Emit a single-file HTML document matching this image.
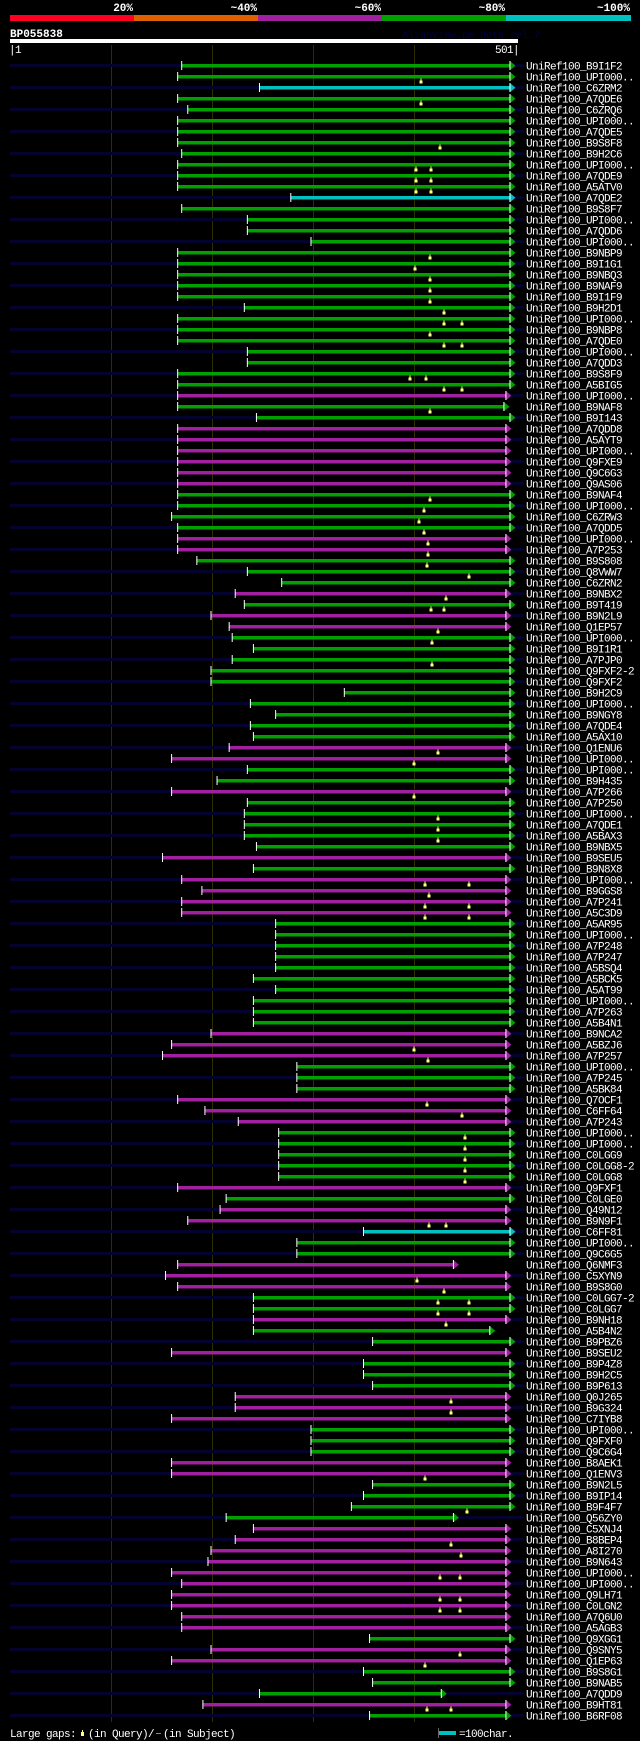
<!DOCTYPE html>
<html><head><meta charset="utf-8"><style>
html,body{margin:0;padding:0;background:#000;}
svg{display:block;}
text{font-family:"Liberation Mono",monospace;}
</style></head><body>
<svg id="chart" width="640" height="1741" viewBox="0 0 640 1741" xmlns="http://www.w3.org/2000/svg">
<rect x="0" y="0" width="640" height="1741" fill="#000"/>
<g font-size="11" font-weight="bold" fill="#fff" text-anchor="end">
<text x="133" y="11">20%</text>
<text x="257" y="11">~40%</text>
<text x="381" y="11">~60%</text>
<text x="505" y="11">~80%</text>
<text x="630" y="11">~100%</text>
</g>
<g>
<rect x="10" y="15" width="124" height="6" fill="#ff0022"/>
<rect x="134" y="15" width="124" height="6" fill="#e06000"/>
<rect x="258" y="15" width="124" height="6" fill="#a020a0"/>
<rect x="382" y="15" width="124" height="6" fill="#00a000"/>
<rect x="506" y="15" width="125" height="6" fill="#00c0c0"/>
</g>
<text x="10" y="37" font-size="11" font-weight="bold" fill="#fff">BP055838</text>
<text x="402" y="38" font-size="10" fill="#000048">AlignView.pm Beta rel.7</text>
<rect x="10" y="39" width="508" height="4" fill="#fff"/>
<text x="9" y="53" font-size="11" fill="#fff" letter-spacing="-0.6">|1</text>
<text x="519" y="53" font-size="11" fill="#fff" text-anchor="end" letter-spacing="-0.6">501|</text>
<g id="grid"></g>
<g id="rows"></g>
<g font-size="11" fill="#fff" letter-spacing="-0.6">
<text x="10" y="1737">Large gaps:</text>
<rect x="81" y="1732" width="3" height="4" fill="#ffff80"/>
<rect x="82" y="1730" width="1" height="2" fill="#ffff80"/>
<text x="88" y="1737">(in Query)/</text>
<rect x="156" y="1733" width="5" height="1" fill="#00c0c0"/>
<text x="163" y="1737">(in Subject)</text>
<rect x="438" y="1728" width="1" height="10" fill="#666"/>
<rect x="439" y="1731" width="17" height="4" fill="#00c0c0"/>
<text x="459" y="1737">=100char.</text>
</g>
</svg>
<script>
const labels = ["B9I1F2","UPI000..","C6ZRM2","A7QDE6","C6ZRQ6","UPI000..","A7QDE5","B9S8F8","B9H2C6","UPI000..","A7QDE9","A5ATV0","A7QDE2","B9S8F7","UPI000..","A7QDD6","UPI000..","B9NBP9","B9I1G1","B9NBQ3","B9NAF9","B9I1F9","B9H2D1","UPI000..","B9NBP8","A7QDE0","UPI000..","A7QDD3","B9S8F9","A5BIG5","UPI000..","B9NAF8","B9I143","A7QDD8","A5AYT9","UPI000..","Q9FXE9","Q9C6G3","Q9AS06","B9NAF4","UPI000..","C6ZRW3","A7QDD5","UPI000..","A7P253","B9S808","Q8VWW7","C6ZRN2","B9NBX2","B9T419","B9N2L9","Q1EP57","UPI000..","B9I1R1","A7PJP0","Q9FXF2-2","Q9FXF2","B9H2C9","UPI000..","B9NGY8","A7QDE4","A5AX10","Q1ENU6","UPI000..","UPI000..","B9H435","A7P266","A7P250","UPI000..","A7QDE1","A5BAX3","B9NBX5","B9SEU5","B9N8X8","UPI000..","B9GGS8","A7P241","A5C3D9","A5AR95","UPI000..","A7P248","A7P247","A5BSQ4","A5BCK5","A5AT99","UPI000..","A7P263","A5B4N1","B9NCA2","A5BZJ6","A7P257","UPI000..","A7P245","A5BK84","Q7OCF1","C6FF64","A7P243","UPI000..","UPI000..","C0LGG9","C0LGG8-2","C0LGG8","Q9FXF1","C0LGE0","Q49N12","B9N9F1","C6FF81","UPI000..","Q9C6G5","Q6NMF3","C5XYN9","B9S8G0","C0LGG7-2","C0LGG7","B9NH18","A5B4N2","B9PBZ6","B9SEU2","B9P4Z8","B9H2C5","B9P613","Q0J265","B9G324","C7IYB8","UPI000..","Q9FXF0","Q9C6G4","B8AEK1","Q1ENV3","B9N2L5","B9IP14","B9F4F7","Q56ZY0","C5XNJ4","B8BEP4","A8I270","B9N643","UPI000..","UPI000..","Q9LH71","C0LGN2","A7Q6U0","A5AGB3","Q9XGG1","Q9SNY5","Q1EP63","B9S8G1","B9NAB5","A7QDD9","B9HT81","B6RF08"];
const classes = ("ggcggggggg"+"ggcggggggg"+"gggggggggg"+"mggmmmmmmg"+"gggmmgggmg"+"mmgggggggg"+"ggmmggmggg"+"ggmgmmmmgg"+"ggggggggmm"+"mgggmmmggg"+"ggmgmmcggm"+"mmggmggmgg"+"gmmmgggmmg"+"gggmmmmmmm"+"mmmgmmgggmg").split("");
const starts = [171,167,248,167,177,167,167,167,171,167,167,167,279,171,236,236,299,167,167,167,167,167,233,167,167,167,236,236,167,167,167,167,245,167,167,167,167,167,167,167,167,161,167,167,167,186,236,270,224,233,200,218,221,242,221,200,200,332,239,264,239,242,218,161,236,206,161,236,233,233,233,245,152,242,171,191,171,171,264,264,264,264,264,242,264,242,242,242,200,161,152,285,285,285,167,194,227,267,267,267,267,267,167,215,209,177,351,285,285,167,155,167,242,242,242,242,360,161,351,351,360,224,224,161,299,299,299,161,161,360,351,339,215,242,224,200,197,161,171,161,161,171,171,357,200,161,351,360,248,192,357];
const ends = [496,496,496,496,496,496,496,496,496,496,496,496,496,496,496,496,496,496,496,496,496,496,496,496,496,496,496,496,496,496,492,490,496,492,492,492,492,492,492,496,496,496,496,492,492,496,496,496,492,496,492,492,496,496,496,496,496,496,496,496,496,496,492,492,496,496,492,496,496,496,496,496,492,496,492,492,492,492,496,496,496,496,496,496,496,496,496,496,492,492,492,496,496,496,492,492,492,496,496,496,496,496,492,496,492,492,496,496,496,440,492,492,496,496,492,476,496,492,496,496,496,492,492,492,496,496,496,492,492,496,496,496,440,492,492,492,492,492,492,492,492,492,492,496,492,492,496,496,428,492,492];
const queryGaps = [[],[408],[],[408],[],[],[],[427],[],[403,418],[403,418],[403,418],[],[],[],[],[],[417],[402],[417],[417],[417],[431],[431,449],[417],[431,449],[],[],[397,413],[431,449],[],[417],[],[],[],[],[],[],[],[417],[411],[406],[411],[415],[415],[414],[455],[],[433],[418,431],[],[425],[419],[],[419],[],[],[],[],[],[],[],[425],[401],[],[],[401],[],[425],[425],[425],[],[],[],[412,455],[416],[412,455],[412,455],[],[],[],[],[],[],[],[],[],[],[],[401],[415],[],[],[],[414],[449],[],[451],[451],[451],[451],[451],[],[],[],[416,433],[],[],[],[],[404],[431],[425,455],[425,455],[433],[],[],[],[],[],[],[438],[438],[],[],[],[],[],[412],[],[],[453],[],[],[438],[448],[],[427,447],[],[427,447],[427,447],[],[],[],[447],[412],[],[],[],[414,438],[]];
const gridTicks = [101,201,301,401];

const NS = "http://www.w3.org/2000/svg";
const X0 = 10, PX = 1.01, ROW0 = 65.5, ROWH = 11;
const colorMap = {g:"#00a000", m:"#a020a0", c:"#00c0c0"};
function xScale(p){ return X0 + (p-1)*PX; }
function yScale(i){ return ROW0 + i*ROWH; }
function mk(tag, attrs){ const e=document.createElementNS(NS,tag); for(const k in attrs) e.setAttribute(k,attrs[k]); return e; }

const grid = document.getElementById("grid");
gridTicks.forEach(function(t){
  const l = mk("rect",{x:Math.round(xScale(t)),y:45,width:1,height:1677,fill:"#2e2e00"});
  
  
  grid.appendChild(l);
});

const rows = document.getElementById("rows");
labels.forEach(function(lab,i){
  const y = yScale(i);
  const g = mk("g",{});
  
  
  if(i%2===0){
    const nv = mk("rect",{x:10,y:y-1.5,width:514,height:3,fill:"#03032e"});
    
    
    g.appendChild(nv);
  }
  const col = colorMap[classes[i]];
  const xs = xScale(starts[i]), xe = xScale(ends[i]);
  const bar = mk("rect",{x:xs,y:y-1.5,width:xe-xs,height:3.5,fill:col});
  
  
  g.appendChild(bar);
  const st = mk("rect",{x:xs-0.5,y:y-4.5,width:1,height:9,fill:"#fff"});
  
  
  g.appendChild(st);
  const ar = mk("polygon",{points:(xe)+","+(y-4.5)+" "+(xe+5.5)+","+(y+0.2)+" "+(xe)+","+(y+4.8),fill:col});
  
  
  g.appendChild(ar);
  const et = mk("rect",{x:xe-0.5,y:y-4.5,width:1,height:9,fill:"#fff"});
  
  
  g.appendChild(et);
  queryGaps[i].forEach(function(p){
    const gx = Math.round(xScale(p));
    const m = mk("path",{d:"M"+(gx-1.5)+" "+(y+7)+"h3v-3h-1v-2h-1v2h-1z",fill:"#ffff80"});
    
    
    g.appendChild(m);
  });
  const t = mk("text",{x:526,y:y+4,"font-size":"11",fill:"#fff","letter-spacing":"-0.6"});
  t.textContent = "UniRef100_" + lab;
  
  
  g.appendChild(t);
  rows.appendChild(g);
});
</script>
</body></html>
